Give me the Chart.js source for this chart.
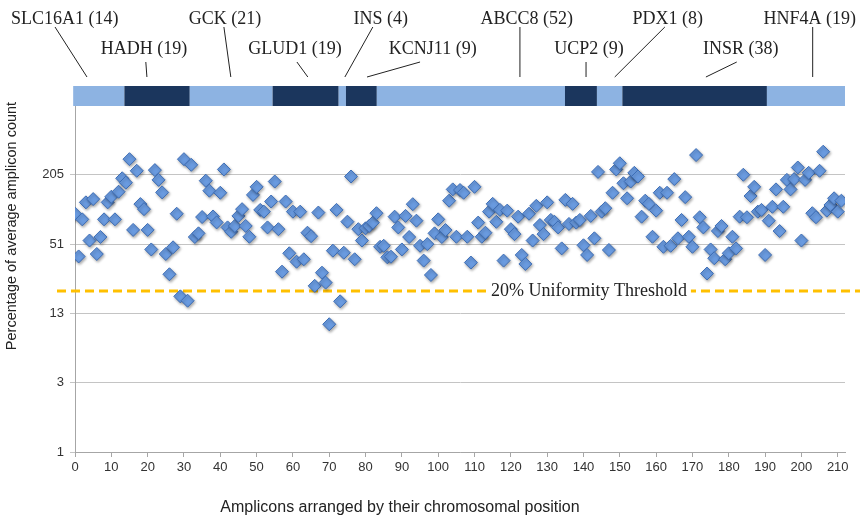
<!DOCTYPE html>
<html>
<head>
<meta charset="utf-8">
<script src="https://cdn.jsdelivr.net/npm/chart.js@4.4.1/dist/chart.umd.min.js"></script>
<style>
  html, body { margin: 0; padding: 0; background: #fff; }
  #wrap { position: relative; width: 864px; height: 520px; }
</style>
</head>
<body>
<div id="wrap"><canvas id="chart" width="864" height="520"></canvas></div>
<script>
// percentage of average amplicon count, amplicons in chromosomal order
var percentOfAverage = [
  94, 40, 84, 118, 55, 126, 42, 59, 84, 118,
  132, 84, 146, 191, 175, 280, 68, 222, 114, 103,
  68, 46, 225, 185, 144, 42, 28, 48, 94, 18,
  280, 16.5, 250, 59, 63.5, 88, 182, 149, 89, 79,
  143, 228, 71.5, 65.5, 73.6, 90, 103, 73.6, 59.3, 137,
  161, 101.5, 98, 71.5, 120, 179, 69, 29.5, 120, 42.6,
  98, 36, 98, 37.8, 64.3, 60, 22.2, 96.2, 28.9, 23.7,
  10.3, 44.9, 101.5, 16.3, 43.1, 80.2, 198, 37.8, 69, 55,
  70.2, 73.6, 78.7, 95, 48.5, 49.5, 39.3, 39.8, 88.6, 71.5,
  46, 90, 59, 113.8, 81.8, 49.5, 36.8, 51.2, 27.6, 63.5,
  84, 59, 67.8, 122, 153, 59.3, 151, 143, 59.3, 35.4,
  161, 78.7, 59.3, 64.3, 98, 114.5, 80, 101.5, 36.8, 100,
  69, 62.5, 88.6, 41.2, 34.4, 94, 55, 110, 75, 62.5,
  118, 83, 80, 71.5, 47, 124, 76.6, 114.5, 78.7, 83,
  50, 41.2, 90, 57.5, 217, 98, 105, 45.5, 143, 228,
  258, 173, 128, 179, 213, 198, 88.6, 122, 114.5, 59.3,
  100, 143, 48.5, 143, 49.5, 188, 57.5, 83, 131, 59.3,
  48.5, 304, 87.6, 71.5, 28.4, 46, 38.6, 66.5, 73.6, 37.8,
  42.6, 59.3, 47, 88.6, 205, 87.6, 134, 161, 98, 101.5,
  41.2, 81.8, 108, 153, 66.5, 108, 185, 153, 188, 237,
  55, 185, 213, 95, 87.6, 222, 325, 100, 112, 128,
  98, 122
];

var xTicks = [0, 10, 20, 30, 40, 50, 60, 70, 80, 90, 100, 110, 120, 130, 140, 150, 160, 170, 180, 190, 200, 210];
var yTicks = [0.8, 3.2, 12.8, 51.2, 204.8];
var yTickLabels = ['1', '3', '13', '51', '205'];

var threshold = 20;
var thresholdLabel = '20% Uniformity Threshold';
var thresholdLabelAt = 141.5;

var geneNames  = ['SLC16A1', 'HADH', 'GCK', 'GLUD1', 'INS', 'KCNJ11', 'ABCC8', 'UCP2', 'PDX1', 'INSR', 'HNF4A'];
var geneCounts = [14, 19, 21, 19, 4, 9, 52, 9, 8, 38, 19];
// where each gene block starts on the bar (amplicon units)
var geneStart  = [-0.5, 13.6, 31.6, 54.4, 72.6, 74.6, 83.1, 134.9, 143.7, 150.7, 190.5];
var geneEnd = 212;
var labelRow   = [0, 1, 0, 1, 0, 1, 0, 1, 0, 1, 0];
var labelAt    = [-2.8, 19.0, 41.3, 60.6, 84.2, 98.5, 124.4, 141.5, 163.2, 183.3, 202.3];
var leaderTop  = [-5.5, 19.5, 41.0, 61.1, 82.0, 95.0, 122.5, 140.7, 162.4, 182.2, 203.1];
var leaderEnd  = [3.3, 19.8, 42.9, 64.1, 74.3, 80.4, 122.5, 140.7, 148.6, 173.7, 203.1];

var serif = '"Liberation Serif", "DejaVu Serif", serif';
var sans = '"Liberation Sans", Arial, sans-serif';

var decor = {
  id: 'decor',
  beforeDatasetsDraw: function (chart) {
    var ctx = chart.ctx, x = chart.scales.x, y = chart.scales.y;
    var ty = y.getPixelForValue(threshold);
    ctx.save();
    ctx.strokeStyle = '#ffc000';
    ctx.lineWidth = 3;
    ctx.setLineDash([9, 5]);
    ctx.beginPath();
    ctx.moveTo(chart.chartArea.left - 18, ty);
    ctx.lineTo(chart.width - 4, ty);
    ctx.stroke();
    ctx.setLineDash([]);
    ctx.font = '18px ' + serif;
    var lx = x.getPixelForValue(thresholdLabelAt);
    var w = ctx.measureText(thresholdLabel).width;
    ctx.fillStyle = '#fff';
    ctx.fillRect(lx - w / 2 - 4, ty - 10, w + 8, 20);
    ctx.fillStyle = '#222';
    ctx.textAlign = 'center';
    ctx.textBaseline = 'alphabetic';
    ctx.fillText(thresholdLabel, lx, ty + 5);
    ctx.restore();
  },
  beforeDatasetDraw: function (chart) {
    var ctx = chart.ctx;
    ctx.save();
    ctx.shadowColor = 'rgba(0,0,0,0.35)';
    ctx.shadowBlur = 3;
    ctx.shadowOffsetX = 1;
    ctx.shadowOffsetY = 1.5;
  },
  afterDatasetDraw: function (chart) {
    chart.ctx.restore();
  },
  afterDraw: function (chart) {
    var ctx = chart.ctx, x = chart.scales.x;
    ctx.save();
    // gene bar
    for (var i = 0; i < geneNames.length; i++) {
      var a = x.getPixelForValue(geneStart[i]);
      var b = x.getPixelForValue(i + 1 < geneStart.length ? geneStart[i + 1] : geneEnd);
      ctx.fillStyle = i % 2 ? '#1b365d' : '#8db3e2';
      ctx.fillRect(a, 86, b - a, 20);
    }
    // labels and leader lines
    ctx.font = '18px ' + serif;
    ctx.fillStyle = '#222';
    ctx.textAlign = 'center';
    ctx.textBaseline = 'alphabetic';
    ctx.strokeStyle = '#222';
    ctx.lineWidth = 1;
    for (var j = 0; j < geneNames.length; j++) {
      var by = labelRow[j] ? 53.5 : 24;
      ctx.fillText(geneNames[j] + ' (' + geneCounts[j] + ')', x.getPixelForValue(labelAt[j]), by);
      ctx.beginPath();
      ctx.moveTo(x.getPixelForValue(leaderTop[j]), labelRow[j] ? 62 : 27);
      ctx.lineTo(x.getPixelForValue(leaderEnd[j]), 77);
      ctx.stroke();
    }
    // axis titles
    ctx.fillStyle = '#222';
    ctx.textBaseline = 'middle';
    ctx.font = '16px ' + sans;
    ctx.fillText('Amplicons arranged by their chromosomal position', 400, 508);
    ctx.font = '14.5px ' + sans;
    ctx.translate(12, 226);
    ctx.rotate(-Math.PI / 2);
    ctx.fillText('Percentage of average amplicon count', 0, 0);
    ctx.restore();
  }
};

new Chart(document.getElementById('chart'), {
  type: 'scatter',
  data: {
    datasets: [{
      data: percentOfAverage.map(function (v, i) { return { x: i, y: v }; }),
      pointStyle: 'rectRot',
      pointRadius: 6.5,
      backgroundColor: '#6a9be0',
      borderColor: '#3d6db5',
      borderWidth: 1
    }]
  },
  options: {
    responsive: false,
    animation: false,
    layout: { padding: { top: 105.5, right: 19, left: 0, bottom: 0 } },
    plugins: { legend: { display: false }, tooltip: { enabled: false } },
    scales: {
      x: {
        type: 'linear', min: 0, max: 212,
        afterBuildTicks: function (s) { s.ticks = xTicks.map(function (v) { return { value: v }; }); },
        afterFit: function (s) { s.height = 68; },
        grid: { drawOnChartArea: false, drawTicks: true, tickLength: 5, color: '#a6a6a6' },
        border: { color: '#a6a6a6' },
        ticks: { font: { family: sans, size: 13 }, color: '#333', padding: 3, maxRotation: 0, autoSkip: false }
      },
      y: {
        type: 'logarithmic', min: 0.8, max: 819.2,
        afterBuildTicks: function (s) { s.ticks = yTicks.map(function (v) { return { value: v }; }); },
        afterFit: function (s) { s.width = 75; },
        grid: { color: '#c4c4c4', tickLength: 5 },
        border: { color: '#a6a6a6' },
        ticks: {
          font: { family: sans, size: 13 }, color: '#333', padding: 6, autoSkip: false,
          callback: function (v, i) { return yTickLabels[i]; }
        }
      }
    }
  },
  plugins: [decor]
});
</script>
</body>
</html>
